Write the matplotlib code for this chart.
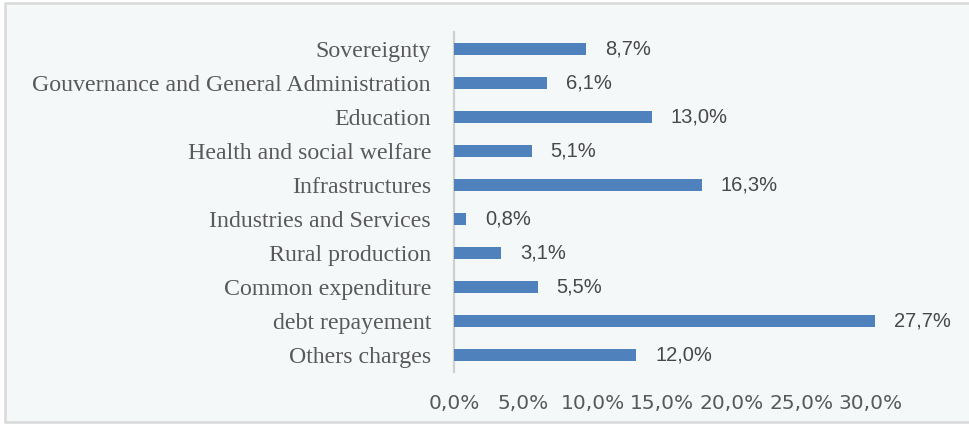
import matplotlib
matplotlib.use("Agg")
import matplotlib.pyplot as plt
from matplotlib.patches import Rectangle

categories = ["Sovereignty", "Gouvernance and General Administration", "Education",
              "Health and social welfare", "Infrastructures", "Industries and Services",
              "Rural production", "Common expenditure", "debt repayement", "Others charges"]
values = [8.7, 6.1, 13.0, 5.1, 16.3, 0.8, 3.1, 5.5, 27.7, 12.0]
tick_values = [0, 5, 10, 15, 20, 25, 30]

def fmt(v):
    return f"{v:.1f}%".replace(".", ",")

W, H = 969, 425
fig = plt.figure(figsize=(W / 100, H / 100), dpi=100)
fig.patch.set_facecolor("white")
fig.patches.append(Rectangle((5 / W, 3 / H), (W + 20) / W, (422 - 3) / H,
                             transform=fig.transFigure, facecolor="#F5F8F9",
                             edgecolor="#D9D9D9", linewidth=1.8, zorder=-10))

left_px, top_px, bottom_px = 454, 32, 372
px_per_unit = 15.2
xmax = 30.5
ax = fig.add_axes([left_px / W, 1 - bottom_px / H, xmax * px_per_unit / W, (bottom_px - top_px) / H])
ax.set_facecolor("none")

y = list(range(len(categories)))
ax.barh(y, values, height=0.33, color="#4F81BD", zorder=3)
ax.set_ylim(len(categories) - 0.5, -0.5)
ax.set_xlim(0, xmax)
ax.set_yticks(y)
ax.set_yticklabels(categories, fontfamily="Liberation Serif", fontsize=17.2, color="#595959")
ax.tick_params(axis="y", length=0, pad=16.5)
ax.set_xticks([])
for s in ["top", "right", "bottom"]:
    ax.spines[s].set_visible(False)
ax.spines["left"].set_color("#D0D0D0")
ax.spines["left"].set_linewidth(1.6)

for yi, v in zip(y, values):
    ax.annotate(fmt(v), (v, yi), xytext=(19, 0), textcoords="offset pixels",
                va="center", ha="left", fontfamily="Liberation Sans", fontsize=14.5,
                color="#484848")

# tick labels axis (separate scale as in the reference)
ax2 = ax.twiny()
tick0_px, tick_step_px = 447, 14.1
right_px = left_px + xmax * px_per_unit
ax2.set_xlim((left_px - tick0_px) / tick_step_px, (right_px - tick0_px) / tick_step_px)
ax2.xaxis.set_ticks_position("bottom")
ax2.set_xticks(tick_values)
ax2.set_xticklabels([fmt(t) for t in tick_values], fontfamily="DejaVu Sans",
                    fontsize=14.5, color="#595959")
ax2.tick_params(axis="x", length=0, pad=15.5)
for s in ax2.spines.values():
    s.set_visible(False)

fig.savefig("out.png", dpi=100)
